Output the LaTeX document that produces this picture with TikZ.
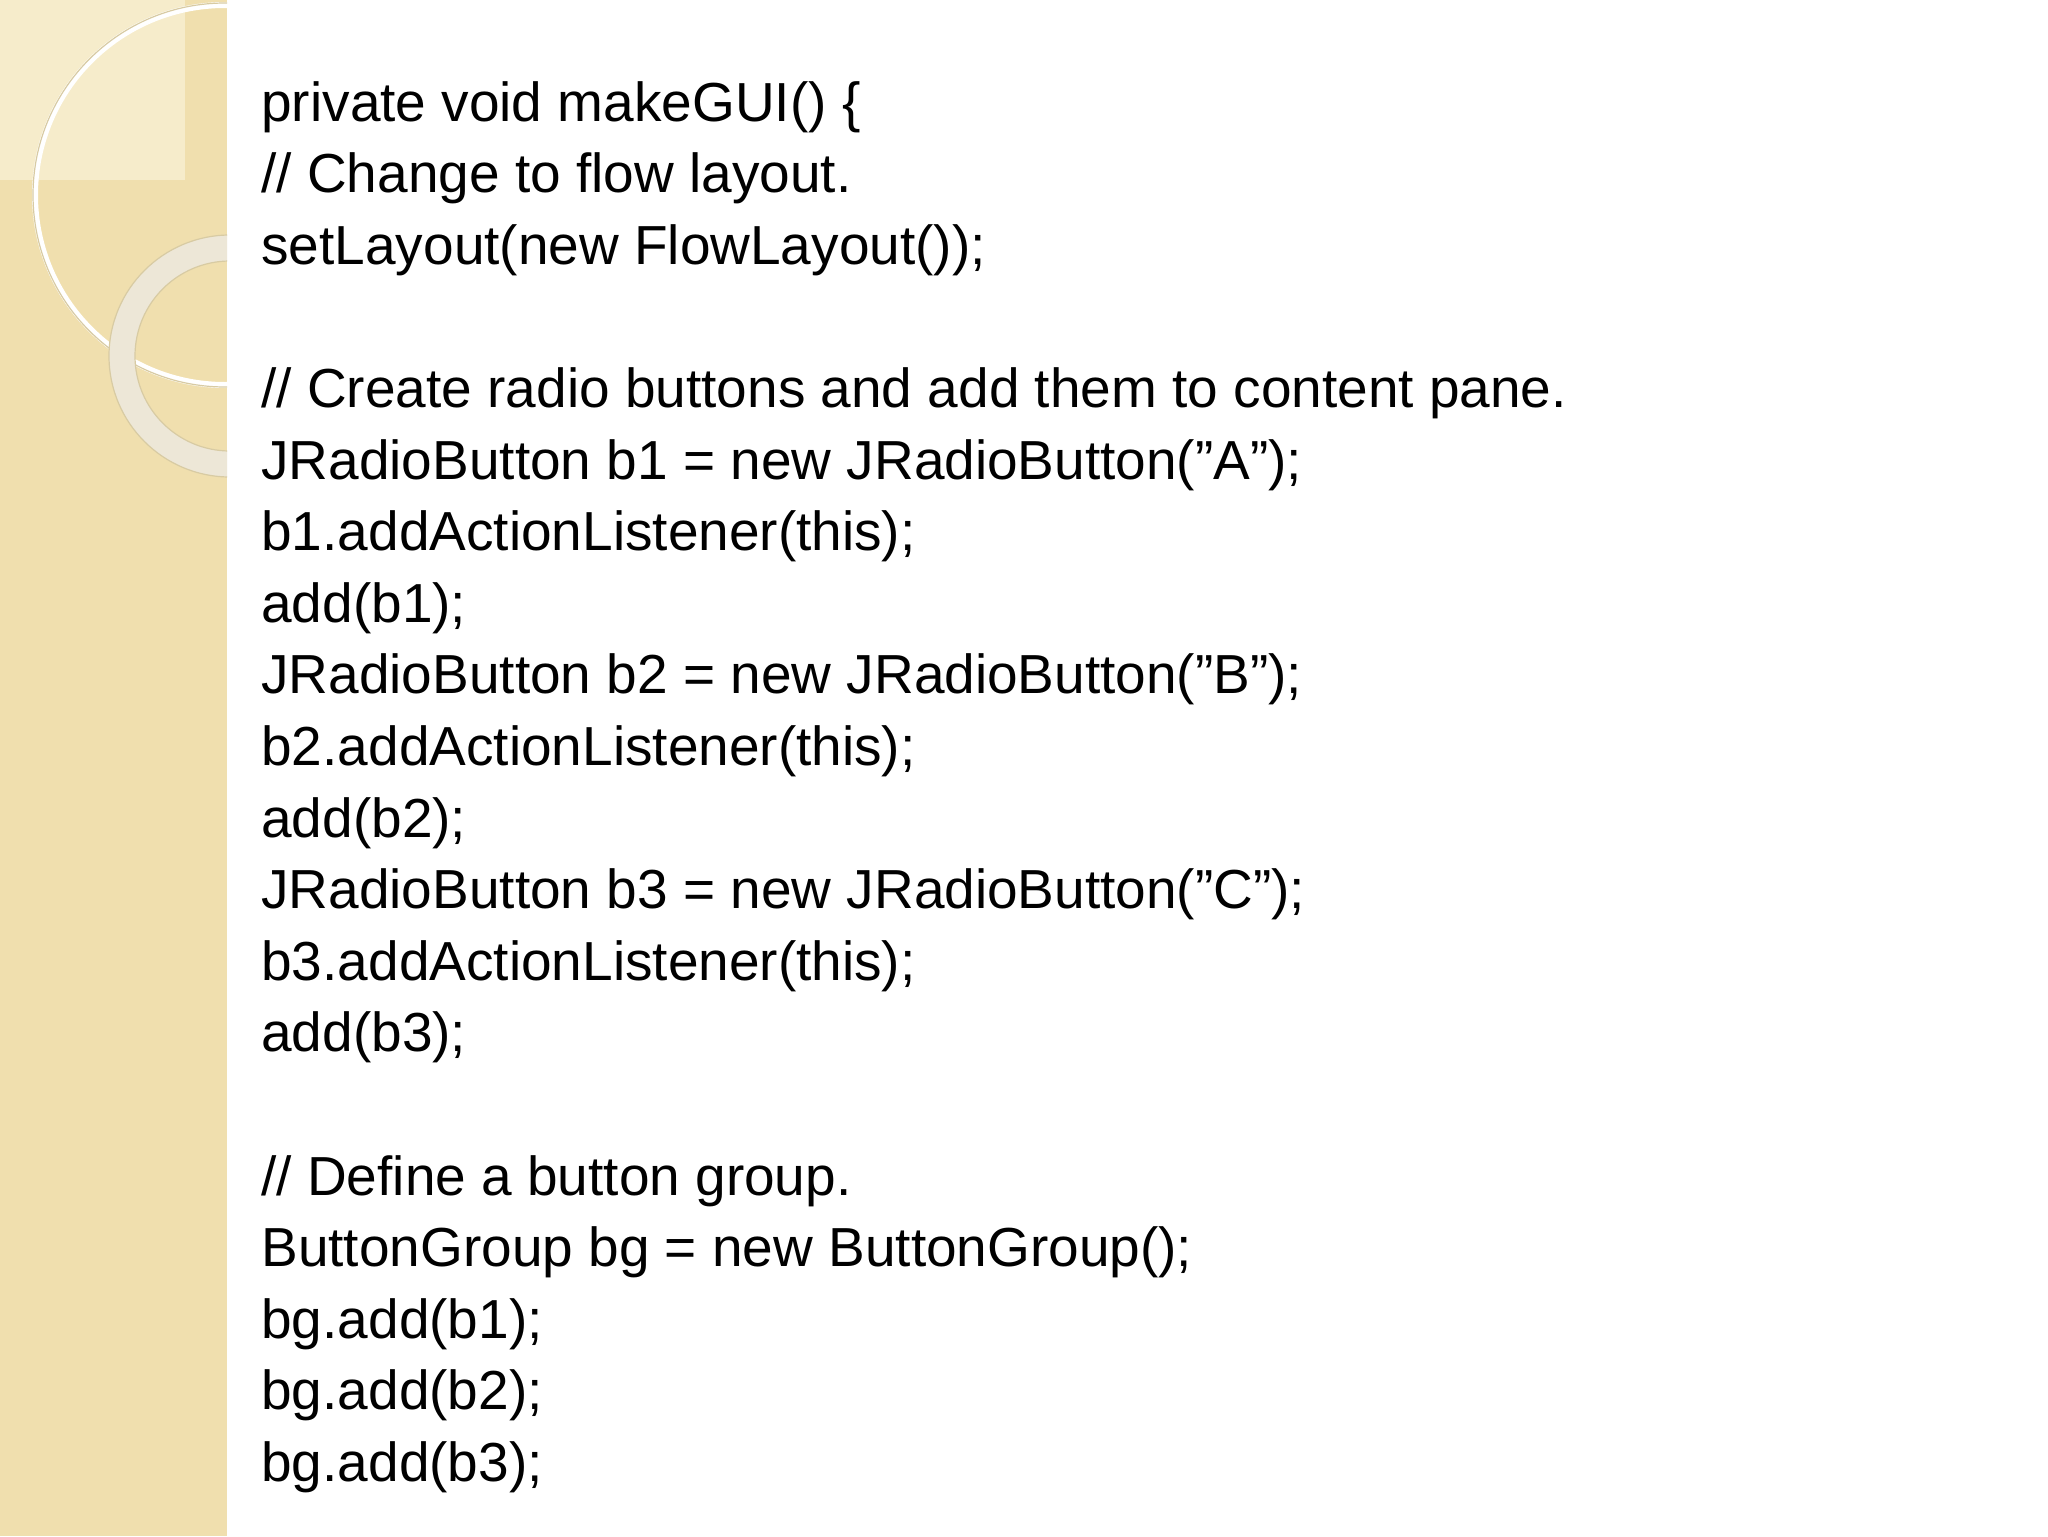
\documentclass[tikz,border=0pt]{standalone}
\usepackage{fontspec}
\setmainfont{Liberation Sans}
\definecolor{strip}{HTML}{F0DFAE}
\definecolor{stripl}{HTML}{F6ECCB}
\definecolor{ring}{HTML}{EDE7D7}
\definecolor{ringedge}{HTML}{D8CBA3}
\tikzset{code/.style={anchor=base west,inner sep=0pt,font=\fontsize{27.5pt}{33pt}\selectfont}}
\begin{document}
\begin{tikzpicture}[x=0.5pt,y=-0.5pt]
\useasboundingbox (0,0) rectangle (2048,1536);
\fill[white] (0,0) rectangle (2048,1536);
\begin{scope}
\clip (0,0) rectangle (227,1536);
\fill[strip] (0,0) rectangle (227,1536);
\fill[stripl] (0,0) rectangle (185,180);
\draw[white,line width=3pt] (225,195) circle (190);
\draw[ringedge,line width=0.6pt] (225,195) circle (192);
\fill[ring,even odd rule] (230,356) circle (121) (230,356) circle (95);
\draw[ringedge,line width=0.6pt] (230,356) circle (121) (230,356) circle (95);
\end{scope}
\foreach \t [count=\i] in {%
private void makeGUI() \{,
// Change to flow layout.,
setLayout(new FlowLayout());,
{},
// Create radio buttons and add them to content pane.,
JRadioButton b1 = new JRadioButton("A");,
b1.addActionListener(this);,
add(b1);,
JRadioButton b2 = new JRadioButton("B");,
b2.addActionListener(this);,
add(b2);,
JRadioButton b3 = new JRadioButton("C");,
b3.addActionListener(this);,
add(b3);,
{},
// Define a button group.,
ButtonGroup bg = new ButtonGroup();,
bg.add(b1);,
bg.add(b2);,
bg.add(b3);}
  \node[code] (l\i) at (261,{121+(\i-1)*71.6}) {\t};
\end{tikzpicture}
\end{document}
